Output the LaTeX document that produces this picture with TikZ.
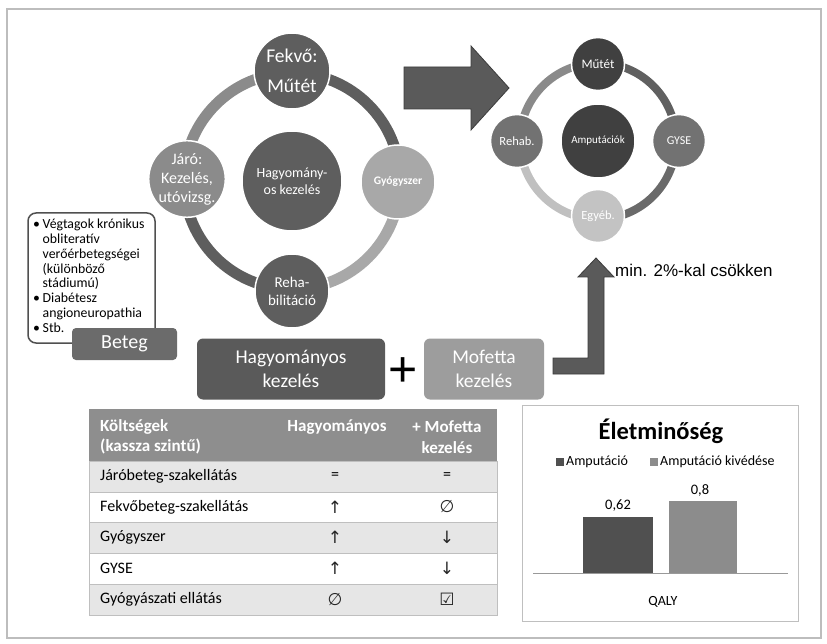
\documentclass[tikz,border=0pt]{standalone}
\usepackage{fontspec}
\setmainfont{Carlito}
\newfontfamily\arialf{Liberation Sans}
\newfontfamily\symf{DejaVu Sans}
\usetikzlibrary{calc}
\newcommand\myfs[2]{\fontsize{#1}{#2}\selectfont}
\definecolor{framegray}{HTML}{BDBDBD}
\definecolor{lcdark}{HTML}{5E5E5E}
\definecolor{lcmed}{HTML}{8B8B8B}
\definecolor{lclight}{HTML}{A8A8A8}
\definecolor{rcdark}{HTML}{404040}
\definecolor{rcmed}{HTML}{727272}
\definecolor{rclight}{HTML}{C3C3C3}
\definecolor{rarc1}{HTML}{606060}
\definecolor{rarc2}{HTML}{6A6A6A}
\definecolor{rarc3}{HTML}{C0C0C0}
\definecolor{rarc4}{HTML}{8A8A8A}
\definecolor{arrowgray}{HTML}{5A5A5A}
\definecolor{arrowline}{HTML}{3C3C3C}
\definecolor{hdrgray}{HTML}{8E8E8E}
\definecolor{rowgray}{HTML}{E6E6E6}
\definecolor{rowline}{HTML}{BFBFBF}
\definecolor{bardark}{HTML}{505050}
\definecolor{barlight}{HTML}{8C8C8C}
\definecolor{boxdark}{HTML}{5A5A5A}
\definecolor{boxlight}{HTML}{9D9D9D}
\definecolor{betegbox}{HTML}{6B6B6B}
\tikzset{
  ringnode/.style={circle, draw=white, line width=1.5pt, inner sep=0pt, text=white, align=center},
  blockarrow/.style={fill=arrowgray, draw=arrowline, line width=0.8pt, line join=miter},
  tabrow/.style={draw=rowline, line width=0.6pt},
  hdrtext/.style={text=white, font=\bfseries\myfs{17}{20.5}, inner sep=0pt},
  celltext/.style={font=\myfs{16}{18}, inner sep=0pt},
  symtext/.style={font=\symf\myfs{17}{19}, inner sep=0pt, text=black!85},
  bigbox/.style={rounded corners=6pt, text=white, align=center, font=\myfs{19.5}{24}},
}
\begin{document}
\begin{tikzpicture}[x=1pt,y=-1pt]
\useasboundingbox (0,0) rectangle (827,644);
\fill[white] (0,0) rectangle (827,644);
% outer frame
\draw[framegray, line width=2pt] (7,9) rectangle (821,638);

% ---------- left cycle ----------
\coordinate (LC) at (292,181);
\draw[line width=11pt, lcdark] ($(LC)+(-90:108)$) arc[start angle=-90, end angle=0, radius=108];
\draw[line width=11pt, lclight] ($(LC)+(0:108)$) arc[start angle=0, end angle=90, radius=108];
\draw[line width=11pt, lcdark] ($(LC)+(90:108)$) arc[start angle=90, end angle=180, radius=108];
\draw[line width=11pt, lcmed] ($(LC)+(180:108)$) arc[start angle=180, end angle=270, radius=108];
\node[ringnode, fill=lcdark, minimum size=76pt, font=\myfs{19.5}{30}] (fekvo) at (292,71) {Fekvő:\\Műtét};
\node[ringnode, fill=lclight, minimum size=74pt, font=\bfseries\myfs{11.5}{14}] (gyogy) at (398,182) {Gyógyszer};
\node[ringnode, fill=lcdark, minimum size=74pt, font=\myfs{15}{18}] (reha) at (292,291) {Reha-\\bilitáció};
\node[ringnode, fill=lcmed, minimum size=76pt, font=\myfs{16}{19}] (jaro) at (187,179) {Járó:\\Kezelés,\\utóvizsg.};
\node[ringnode, fill=lcdark, minimum size=100pt, font=\myfs{14}{17}] (hagy) at (292,181) {Hagyomány-\\os kezelés};

% ---------- big arrow ----------
\draw[blockarrow] (404,67) -- (471,67) -- (471,46) -- (509,88) -- (471,130) -- (471,109) -- (404,109) -- cycle;

% ---------- right cycle ----------
\coordinate (RC) at (598,141);
\draw[line width=8pt, rarc1] ($(RC)+(-90:78)$) arc[start angle=-90, end angle=0, radius=78];
\draw[line width=8pt, rarc2] ($(RC)+(0:78)$) arc[start angle=0, end angle=90, radius=78];
\draw[line width=8pt, rarc3] ($(RC)+(90:78)$) arc[start angle=90, end angle=180, radius=78];
\draw[line width=8pt, rarc4] ($(RC)+(180:78)$) arc[start angle=180, end angle=270, radius=78];
\node[ringnode, fill=rcdark, minimum size=53pt, font=\myfs{13}{15}] (mutet) at (598,64) {Műtét};
\node[ringnode, fill=rcmed, minimum size=53pt, font=\myfs{12}{14}] (gyse) at (679,141) {GYSE};
\node[ringnode, fill=rclight, minimum size=53pt, font=\myfs{12.5}{14}] (egyeb) at (598,216) {Egyéb.};
\node[ringnode, fill=rcmed, minimum size=53pt, font=\myfs{12.5}{14}] (rehab) at (517,141) {Rehab.};
\node[ringnode, fill=rcdark, minimum size=74pt, font=\myfs{11}{13}] (amput) at (598,141) {Amputációk};

% ---------- patient box ----------
\draw[rounded corners=8pt, draw=lcdark!85!black, line width=1.5pt, fill=white] (28,213) rectangle (155,343);
\node[anchor=north west, align=left, inner sep=0pt, font=\myfs{13.8}{14.8}] (list) at (33,219)
  {\makebox[9.5pt][l]{•}Végtagok krónikus\\
   \hspace*{9.5pt}obliteratív\\
   \hspace*{9.5pt}verőérbetegségei\\
   \hspace*{9.5pt}(különböző\\
   \hspace*{9.5pt}stádiumú)\\
   \makebox[9.5pt][l]{•}Diabétesz\\
   \hspace*{9.5pt}angioneuropathia\\
   \makebox[9.5pt][l]{•}Stb.};
\node[fill=betegbox, rounded corners=4pt, minimum width=105pt, minimum height=32pt, inner sep=0pt, text=white, font=\myfs{20}{22}] (beteg) at (124.5,344) {Beteg};

% ---------- treatment boxes ----------
\node[bigbox, fill=boxdark, minimum width=188pt, minimum height=61pt] (hagyb) at (291,369) {Hagyományos\\kezelés};
\node[inner sep=0pt, font=\arialf\myfs{50}{50}] (plus) at (403,372) {+};
\node[bigbox, fill=boxlight, minimum width=120pt, minimum height=61pt] (mofb) at (484,369) {Mofetta\\kezelés};

% ---------- bent arrow ----------
\draw[blockarrow] (596,258) -- (614,277) -- (604,277) -- (604,374) -- (553,374) -- (553,358) -- (588,358) -- (588,277) -- (578,277) -- cycle;
\node[anchor=west, inner sep=0pt, font=\arialf\myfs{17}{19}] (minus) at (615,270) {min. 2\%-kal csökken};

% ---------- table ----------
\fill[hdrgray] (89,409) rectangle (497,461);
\filldraw[tabrow, fill=rowgray] (89,461) rectangle (497,492);
\filldraw[tabrow, fill=white] (89,492) rectangle (497,522);
\filldraw[tabrow, fill=rowgray] (89,522) rectangle (497,553);
\filldraw[tabrow, fill=white] (89,553) rectangle (497,584);
\filldraw[tabrow, fill=rowgray] (89,584) rectangle (497,615);
\node[hdrtext, anchor=west, align=left] (h1) at (100,437) {Költségek\\(kassza szintű)};
\node[hdrtext] (h2) at (337,427) {Hagyományos};
\node[hdrtext, align=center] (h3) at (447,437) {+ Mofetta\\kezelés};
\node[celltext, anchor=west] (r1) at (100,476.5) {Járóbeteg-szakellátás};
\node[celltext, anchor=west] (r2) at (100,507) {Fekvőbeteg-szakellátás};
\node[celltext, anchor=west] (r3) at (100,537.5) {Gyógyszer};
\node[celltext, anchor=west] (r4) at (100,568.5) {GYSE};
\node[celltext, anchor=west] (r5) at (100,599.5) {Gyógyászati ellátás};
\node[celltext] (a1) at (335,476.5) {=};
\node[celltext] (b1) at (447,476.5) {=};
\node[symtext] (a2) at (335,507) {↑};
\node[symtext] (b2) at (447,507) {∅};
\node[symtext] (a3) at (335,537.5) {↑};
\node[symtext] (b3) at (447,537.5) {↓};
\node[symtext] (a4) at (335,568.5) {↑};
\node[symtext] (b4) at (447,568.5) {↓};
\node[symtext] (a5) at (335,599.5) {∅};
\node[symtext] (b5) at (447,599.5) {☑};

% ---------- chart ----------
\draw[rowline, line width=1pt, fill=white] (522,405) rectangle (798,621);
\node[font=\bfseries\myfs{24.5}{27}, inner sep=0pt] (title) at (661,431) {Életminőség};
\fill[bardark] (556,458) rectangle (564,466);
\node[anchor=west, inner sep=0pt, font=\myfs{14}{16}] (lg1) at (566,462) {Amputáció};
\fill[barlight] (650,458) rectangle (658,466);
\node[anchor=west, inner sep=0pt, font=\myfs{14}{16}] (lg2) at (660,462) {Amputáció kivédése};
\fill[bardark] (583,517) rectangle (653,573);
\fill[barlight] (669,501) rectangle (737,573);
\draw[rowline!80!black, line width=0.8pt] (533,573) -- (788,573);
\node[inner sep=0pt, font=\myfs{14.5}{16}] (v1) at (618,506) {0,62};
\node[inner sep=0pt, font=\myfs{14.5}{16}] (v2) at (700,490) {0,8};
\node[inner sep=0pt, font=\myfs{14}{16}] (qaly) at (663,602) {QALY};
\end{tikzpicture}
\end{document}
